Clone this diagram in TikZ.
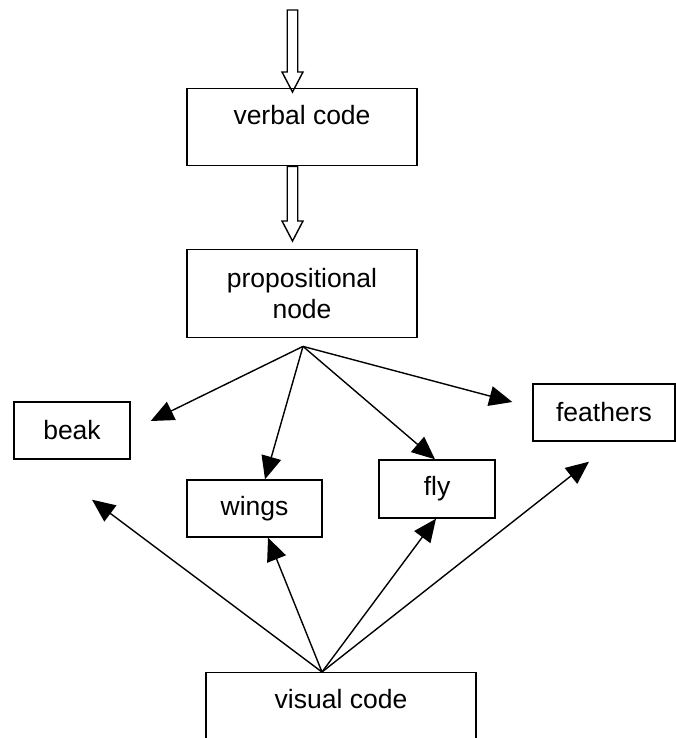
\documentclass[tikz,border=0pt]{standalone}
\usepackage{fontspec}
\setmainfont{Liberation Sans}
\usetikzlibrary{arrows.meta,calc}
\tikzset{
  box/.style={draw, line width=1.4pt, inner sep=0pt, font=\fontsize{26.5}{30.5}\selectfont, align=center},
  link/.style={line width=1.4pt, -{Triangle[length=23pt,width=20pt]}},
  hollow/.style={draw, line width=1.4pt, line join=miter},
}
\newcommand\hollowarrow[2]{\path[hollow] let \p1=(#1), \p2=(#2) in
  (\x1-5.25pt,\y1) -- (\x1-5.25pt,\y2+20pt) -- (\x1-10.5pt,\y2+20pt) -- (\x2,\y2)
  -- (\x1+10.5pt,\y2+20pt) -- (\x1+5.25pt,\y2+20pt) -- (\x1+5.25pt,\y1) -- cycle;}
\begin{document}
\begin{tikzpicture}[x=1pt,y=-1pt]
\clip (0,0) rectangle (676,738);
% boxes
\node[box, anchor=north, minimum width=230pt, text height=36pt, text depth=41pt] (verbal) at (302,88) {verbal code};
\node[box, anchor=north, minimum width=230pt, minimum height=88pt] (prop) at (302,249) {propositional\\node};
\node[box, minimum width=116pt, minimum height=57pt] (beak) at (72,430.5) {beak};
\node[box, minimum width=135pt, minimum height=57pt] (wings) at (254.5,508.5) {wings};
\node[box, minimum width=116pt, minimum height=58pt] (fly) at (437,489) {fly};
\node[box, minimum width=142pt, minimum height=57pt] (feathers) at (604,412.5) {feathers};
\node[box, anchor=north, minimum width=270pt, text height=36pt, text depth=41pt] (visual) at (341,672) {visual code};
% coordinates
\coordinate (in) at (292.5,10);
\coordinate (verbalin) at ($(verbal.north)+(-9.5,4)$);
\coordinate (verbalout) at ($(verbal.south)+(-9.5,0)$);
\coordinate (propin) at ($(prop.north)+(-9.5,-8)$);
\coordinate (top) at ($(prop.south)+(1,8)$);
\coordinate (bot) at ($(visual.north)+(-19,0)$);
\coordinate (beakin) at ($(beak.east)+(20,-9.5)$);
\coordinate (wingsin) at ($(wings.north)+(10.5,0)$);
\coordinate (flyin) at ($(fly.north)+(-2,0)$);
\coordinate (feathin) at ($(feathers.west)+(-20,-10.5)$);
\coordinate (beakvis) at ($(beak.south)+(20,40)$);
\coordinate (wingsvis) at ($(wings.south)+(13.5,0)$);
\coordinate (flyvis) at ($(fly.south)+(-1,0)$);
\coordinate (feathvis) at ($(feathers.south)+(-15,20)$);
% hollow arrows
\hollowarrow{in}{verbalin}
\hollowarrow{verbalout}{propin}
% links
\draw[link] (top) -- (beakin);
\draw[link] (top) -- (wingsin);
\draw[link] (top) -- (flyin);
\draw[link] (top) -- (feathin);
\draw[link] (bot) -- (beakvis);
\draw[link] (bot) -- (wingsvis);
\draw[link] (bot) -- (flyvis);
\draw[link] (bot) -- (feathvis);
\end{tikzpicture}
\end{document}
